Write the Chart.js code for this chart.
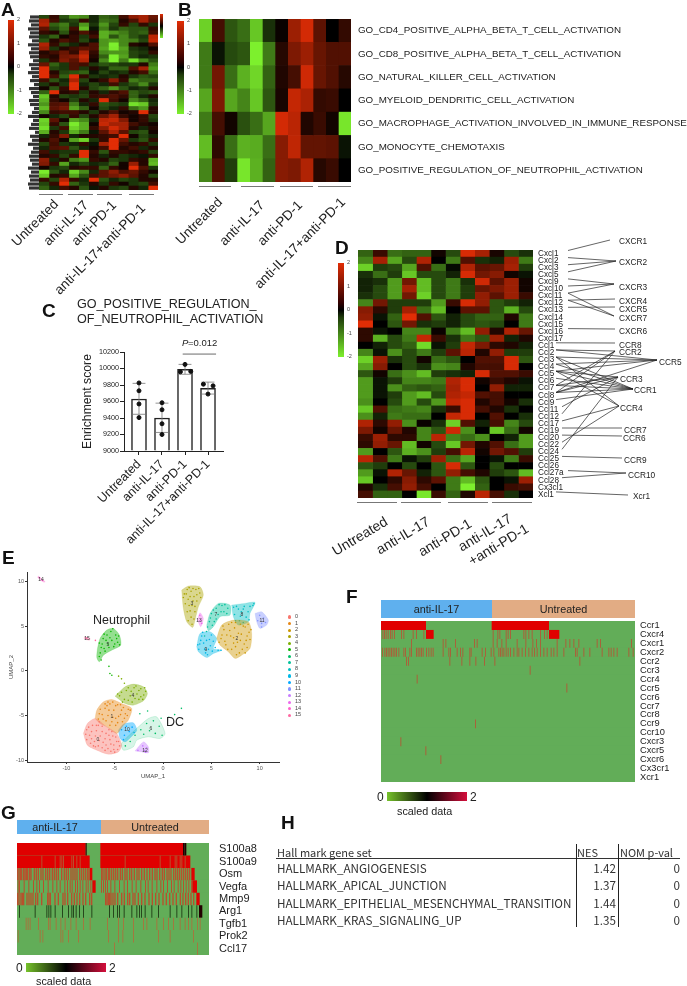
<!DOCTYPE html>
<html>
<head>
<meta charset="utf-8">
<script src="https://cdn.jsdelivr.net/npm/chart.js@4"></script>
<style>
  html, body { margin: 0; padding: 0; background: #fff; }
  #page { position: relative; width: 687px; height: 986px; overflow: hidden; font-family: "Liberation Sans", Arial, sans-serif; color: #222; filter: blur(0.35px); }
  #page canvas { position: absolute; }
  .t { position: absolute; white-space: nowrap; line-height: 1; }
  .box { position: absolute; }
</style>
</head>
<body>
<div id="page"></div>
<script>
// ---- data ----
const groups = ["Untreated", "anti-IL-17", "anti-PD-1", "anti-IL-17+anti-PD-1"];

// A: heatmap rows, 12 samples
const heatA = [
  [-.4,.3,-.5,-1,-.9,-.2,-.6,-.5,.4,1,1.2,.7],
  [1.2,.4,-.3,-.4,.3,-.2,-.7,-.6,.2,.5,1.2,.6],
  [1.3,-.6,-.8,-.3,-1,-.3,-1,-.4,.3,-.4,.3,-.3],
  [.6,-.4,-.7,.4,-1.3,-.1,-.8,-.3,-.6,-.5,-.5,.3],
  [.3,.2,-.5,.2,.5,.2,-1.2,-1,-.8,-.5,-.6,.4],
  [-.3,-.6,.1,.3,-.3,.4,-1.2,-.5,-.9,-.5,-.3,1.4],
  [-.5,.2,.5,.3,-.4,-.1,-1,-1.1,-.9,-.8,-.4,1.5],
  [1.3,.3,-.4,-.2,.2,.5,-1,-1.8,-.9,.2,.1,.5],
  [1.1,-.3,.2,.4,.6,.5,-1.1,-1.7,-1.1,-.3,-.2,.1],
  [.2,.4,.7,.3,1.2,.3,-.9,-1,-1,-.4,-.3,.3],
  [.3,.2,.8,.9,1.5,.2,-.6,-1.9,-1.1,-.4,-.2,-.3],
  [-.3,.3,.9,.6,1.3,.1,-.9,-1.8,-.8,-1.6,-.9,-.5],
  [.7,-.6,-.3,.5,.4,-.3,-.5,-.4,-.3,-.3,.2,-.8],
  [1.9,-.4,-.3,.5,-.3,.2,-.2,-.6,-.6,.5,1.2,-1],
  [2,.2,-.4,-.5,-.6,-.1,-.4,-.2,-.3,.2,.4,-.7],
  [2,.4,-.6,1.8,.3,-.3,-.2,-.3,.2,-.3,-.5,-.4],
  [.4,-.5,-.2,1.3,-.4,.1,.3,1,.3,-.8,-.6,-.6],
  [-.3,.2,-.3,1.8,-.2,-.4,-.2,.4,-.3,-.5,-.9,-.3],
  [.1,-.5,.3,1.7,.2,-.4,-.6,-1,-.5,-.2,-.3,.2],
  [-.6,1.9,.2,.3,-.3,.2,-.2,.3,.5,-.6,-.4,-.5],
  [-1.4,.2,-.4,-.3,-.4,.3,.4,.5,.3,-.6,-.2,.2],
  [-1.2,.3,.1,-.4,.2,-.2,1.9,.4,.1,-.9,-.6,-.2],
  [-1,.5,.6,-.8,-.2,.3,-.5,-.4,-.3,-1.6,-1.4,-.3],
  [-1.3,.6,.8,-1.1,-.6,.1,-.4,-.2,.3,-.7,-1,.2],
  [-.9,.3,.4,.4,.2,-.3,.2,.5,.1,.2,1.8,.2],
  [.1,-.2,-.4,.3,-.4,.2,.7,1.2,.3,.1,.3,-.4],
  [-1.5,.6,.1,-1.1,-.9,-.2,1.4,1.5,.9,.1,.3,-.3],
  [-1.4,.3,-.5,-1.7,-1.2,.1,1.5,1.2,1.2,.4,.2,.1],
  [-1.6,-.3,.4,-1.5,-1.2,.3,1,1.6,1.2,.2,-.2,.2],
  [-1.2,.2,-.3,-1.2,-.8,-.1,.6,1.3,.6,-.4,-.5,.1],
  [-.2,.3,.9,-.2,.2,.2,.3,.4,1.8,.1,-.4,-.2],
  [.2,.5,.1,-1.1,-1.5,-.3,.3,1.9,.7,-.3,-.5,.3],
  [-.4,.4,-.3,-.2,.3,-.1,1.2,2,.4,.2,.3,-.3],
  [-.2,.5,.6,-.5,-.2,.1,.4,1.8,.2,.4,-.2,.2],
  [.4,-.2,-.3,-.3,1.9,.3,-.5,.3,.3,.2,.3,-.4],
  [.2,.3,-.4,.3,1.8,.2,-.2,.2,-.3,-.2,-.1,.3],
  [1,-.2,.2,-.8,-1,.3,.2,-.4,-.3,.3,.2,-1.2],
  [.9,.3,-1.1,-.2,-.4,-.2,-.3,-.6,.1,1.1,.2,-1.3],
  [.1,-.3,-.4,.2,.3,.3,-.6,.3,.1,1.9,.5,-.3],
  [-1.7,-.5,-.2,-1.5,-.9,-.2,.6,1,.5,.7,.3,.1],
  [-1.4,.2,.3,-1.1,-.5,.4,.6,.8,1,.6,.2,-.4],
  [.3,-.4,1.3,.3,-.2,1.9,-.5,-.2,-.4,-.3,.2,.2],
  [-.4,.3,1.9,-.6,-.3,.2,-.3,.3,.1,-.3,-.4,.4],
  [-.6,-.2,.4,.2,-.5,-.1,.2,-.3,-.4,.2,-.2,1.9]
];
const dendroA = [9,10,8,11,9,10,7,11,8,10,9,6,10,8,11,7,9,5,10,8,6,10,9,5,7,11,6,8,10,4,9,7,11,6,8,10,9,7,11,8,10,9,11,10];

// B: gene set scores
const pathwaysB = ["GO_CD4_POSITIVE_ALPHA_BETA_T_CELL_ACTIVATION","GO_CD8_POSITIVE_ALPHA_BETA_T_CELL_ACTIVATION","GO_NATURAL_KILLER_CELL_ACTIVATION","GO_MYELOID_DENDRITIC_CELL_ACTIVATION","GO_MACROPHAGE_ACTIVATION_INVOLVED_IN_IMMUNE_RESPONSE","GO_MONOCYTE_CHEMOTAXIS","GO_POSITIVE_REGULATION_OF_NEUTROPHIL_ACTIVATION"];
const heatB = [
  [-1.7,.5,-.6,-.8,-1.6,-.3,.05,1.3,1.85,.7,0,.35],
  [-.9,-.1,-.5,-.6,-2,-.9,.25,1,1.3,.8,.6,.6],
  [-.9,.9,-.8,-1.4,-1.75,-.7,.2,.5,1.8,.8,.6,.25],
  [-1.3,1,-1.3,-1,-1.6,-.6,.15,1.7,1.45,.35,.4,0],
  [-.9,.5,.1,-.55,-.8,-1.3,1.85,1.6,.2,.4,.1,-1.9],
  [-1.5,.3,-.8,-1.4,-1.35,-.8,1.1,1.65,.75,.75,.7,-.1],
  [-1,.6,-.4,-1.9,-1.4,-.7,1.1,1,1.5,.25,.4,0]
];

// C: enrichment score
const barC = [9630, 9400, 9990, 9760];
const errHiC = [9820, 9580, 10050, 9835];
const errLoC = [9445, 9225, 9930, 9690];
const dotsC = [[0,9825],[0,9730],[0,9570],[0,9405],[1,9585],[1,9500],[1,9330],[1,9200],[2,10050],[1.8,9960],[2.25,9965],[2.8,9810],[3.22,9790],[3,9690]];

// D: chemokines
const chemokines = ["Cxcl1","Cxcl2","Cxcl3","Cxcl5","Cxcl9","Cxcl10","Cxcl11","Cxcl12","Cxcl13","Cxcl14","Cxcl15","Cxcl16","Cxcl17","Ccl1","Ccl2","Ccl3","Ccl4","Ccl5","Ccl6","Ccl7","Ccl8","Ccl9","Ccl11","Ccl12","Ccl17","Ccl19","Ccl20","Ccl22","Ccl24","Ccl25","Ccl26","Ccl27a","Ccl28","Cx3cl1","Xcl1"];
const heatD = [
  [-.7,.4,-.8,-.7,-.7,.1,-.5,1.9,1.4,.15,-.5,-.3],
  [-1,1.4,-1.3,-.5,1.5,0,-.9,.6,-.3,-.2,1.3,-.9],
  [-1.7,-.4,-.5,-1.3,.6,-.8,-.05,1.5,.7,.8,1.4,-.4],
  [-.3,-.8,-.4,-1.6,-.5,-.5,-.2,1.9,.9,1.1,.1,-.1],
  [-.2,-.3,-1.2,.9,-1.5,-.5,-.9,-.3,1.8,.7,1.3,.1],
  [-.2,-.5,-1.2,1.4,-1.5,-.5,-.9,-.4,.8,1,1.3,.1],
  [-.3,-.5,-1.2,.9,-1.7,-.5,-.9,-.4,1.2,.7,1.3,.4],
  [-1,.9,-.4,-.4,-.4,-1.2,.4,1.9,1.2,-.6,-.4,-.2],
  [1.1,.3,-.4,1.4,-.8,-1.5,0,.7,.7,-.6,-1.4,-.5],
  [1.2,-.1,-.7,2,.6,-.6,-.2,-.5,-.7,-.7,.2,-.9],
  [2,0,-.6,.9,-.3,-.4,-.2,-.5,-.6,-.5,0,-.9],
  [.3,-.1,0,-1,-1,.05,-.9,-1.5,1.2,.2,1.5,.8],
  [.3,-1.4,-.5,-.9,1.7,.4,-.3,-.9,-.6,1.3,-.2,.2],
  [0,-.2,-.5,-.7,-1.8,-.1,-.4,1.7,1,.3,.2,-.2],
  [-1,-.1,-1.1,-.5,-.9,-.4,.7,1.6,.2,1.2,-.4,-.4],
  [-1.7,1.3,-.3,-.5,.1,-.8,-.6,0,.6,.6,1.9,-.6],
  [-1.3,1.1,0,-.5,-.3,-1.1,-1,.2,.5,.5,1.9,0],
  [-.6,.1,-.8,-1.1,-1.5,-.4,-.3,-.2,1.9,.6,.6,.4],
  [-1.2,-.1,-.4,-1,-1,-.9,1.5,1.9,.1,.4,.2,-.1],
  [-1.2,-.1,-1.1,-.7,-.6,-.7,1.4,1.9,0,1.2,-.2,-.2],
  [-1.2,-.1,-.4,-1.2,-1.5,-.5,1.5,1.7,.6,.5,0,0],
  [-1.1,0,-.5,-1.2,-.5,-1.2,1.7,1.9,.2,.5,.1,-.3],
  [-1.6,.6,-.8,-.9,-1,-.3,.4,1.9,.5,.2,-.3,0],
  [-1.1,-.2,-.9,-.8,-.8,0,1.7,1.9,0,.6,0,-.3],
  [1.5,.3,1.2,-1.1,.05,-.3,-1.7,.6,-.2,.5,-1,-.5],
  [1,.1,.8,.2,-1,-.6,1.8,-1.1,0,-1.6,-.8,.1],
  [.4,1.3,.3,.3,-1,1.6,-1,-.8,-1.1,0,-.2,-1.2],
  [.3,1.2,.8,-1.5,.1,-.5,-1.6,.9,.2,.6,-.8,-1.2],
  [-1.2,0,-.6,-1.4,-1.1,-.4,.5,1.6,.1,.9,.6,-.4],
  [1.6,.6,-.9,-.1,-.4,1.3,-.8,-1.3,0,-.1,-.9,.4],
  [-.6,-.4,0,-.5,0,-.6,1.9,-.6,0,-.5,0,0],
  [-1.2,-.1,1.5,.8,-.2,-.6,1.2,.5,.2,-.4,-.6,-1.5],
  [-1.6,0,.3,1.1,.3,.7,-.9,-1.5,-.6,0,-.1,1.3],
  [.2,-.3,.5,1.2,.5,0,-.9,-2,-.7,0,.4,.5],
  [.5,-.7,-.7,0,-1.9,.4,-.7,.2,1.6,.5,-.3,0]
];
const linksCXCR1 = ["CXCR1", "Cxcl1"];
const linksCXCR2 = ["CXCR2", "Cxcl2", "Cxcl3", "Cxcl5"];
const linksCXCR3 = ["CXCR3", "Cxcl9", "Cxcl10", "Cxcl11"];
const linksCXCR4 = ["CXCR4", "Cxcl12"];
const linksCXCR5 = ["CXCR5", "Cxcl13"];
const linksCXCR7 = ["CXCR7", "Cxcl11", "Cxcl12"];
const linksCXCR6 = ["CXCR6", "Cxcl16"];
const linksCCR8 = ["CCR8", "Ccl1"];
const linksCCR2 = ["CCR2", "Ccl2", "Ccl7", "Ccl8", "Ccl12"];
const linksCCR5 = ["CCR5", "Ccl2", "Ccl3", "Ccl4", "Ccl5", "Ccl8"];
const linksCCR3 = ["CCR3", "Ccl5", "Ccl7", "Ccl8", "Ccl11", "Ccl24"];
const linksCCR1 = ["CCR1", "Ccl3", "Ccl4", "Ccl5", "Ccl6", "Ccl7", "Ccl8", "Ccl9"];
const linksCCR4 = ["CCR4", "Ccl3", "Ccl5", "Ccl17", "Ccl22"];
const linksCCR7 = ["CCR7", "Ccl19"];
const linksCCR6 = ["CCR6", "Ccl20"];
const linksCCR9 = ["CCR9", "Ccl25"];
const linksCCR10 = ["CCR10", "Ccl27a", "Ccl28"];
const linksXcr1 = ["Xcr1", "Xcl1"];

// E: UMAP, outline of each cluster and a sample of its cells
const clusterColors = ["#F8766D","#E68613","#CD9600","#ABA300","#7CAE00","#0CB702","#00BE67","#00C19A","#00BFC4","#00B8E7","#00A9FF","#8494FF","#C77CFF","#ED68ED","#FF61CC","#FF68A1"];
const shape0 = [[-8.24,-7.01],[-7.83,-5.9],[-7.03,-5.34],[-5.83,-6.27],[-4.79,-7.01],[-4.28,-8.32],[-4.62,-9.07],[-5.66,-9.33],[-6.86,-8.88],[-7.83,-8.32]];
const shape1 = [[-7.03,-5.34],[-6.86,-4.4],[-6.17,-3.47],[-5.31,-3.21],[-4.28,-3.66],[-3.24,-4.22],[-3.59,-5.52],[-4.1,-6.08],[-4.79,-7.01],[-5.83,-6.27],[-6.52,-5.9]];
const shape2 = [[5.55,3.62],[6.07,5.11],[7.28,5.67],[8.83,5.48],[9.17,4.18],[9,2.5],[8.14,1.75],[7.45,1.38],[6.76,2.13],[5.9,2.87]];
const shape3 = [[1.93,9.03],[2.62,9.48],[3.83,9.4],[4.17,8.47],[3.66,7.16],[3.31,5.67],[3.07,4.85],[2.45,5.48],[2.1,7]];
const shape4 = [[-4.97,-2.84],[-3.93,-1.79],[-3.07,-1.49],[-2.03,-1.79],[-1.62,-2.54],[-2.03,-3.36],[-3.07,-3.84],[-3.93,-3.66]];
const shape5 = [[-6.79,2.5],[-6.52,3.62],[-5.83,4.55],[-5.14,4.74],[-4.52,4],[-4.38,2.87],[-5.31,2.31],[-6.17,1.75],[-6.59,1],[-6.86,1.49]];
const shape6 = [[-2.55,-6.27],[-1.52,-5.34],[-.66,-5.15],[.21,-7.01],[-.31,-7.57],[-1.52,-7.38],[-2.72,-7.75],[-3.07,-8.5],[-4.1,-8.88],[-4.28,-8.1]];
const shape7 = [[4.52,5.11],[4.86,6.42],[5.72,7.54],[6.93,7.35],[6.93,6.23],[5.9,6.04],[5.21,4.93],[4.69,4.48]];
const shape8 = [[7.1,7.35],[8.48,7.54],[9.52,7.65],[9,6.42],[8.83,5.48],[7.79,5.11],[7.28,6.04]];
const shape9 = [[3.48,2.69],[3.83,4.18],[4.86,4.37],[5.55,3.62],[5.21,2.5],[6.07,2.31],[5.21,1.94],[4.52,1.49],[3.66,2.13]];
const shape10 = [[-4.62,-6.64],[-4.1,-5.97],[-3.07,-5.82],[-2.72,-6.64],[-3.24,-7.31],[-3.93,-7.95],[-4.45,-7.57]];
const shape11 = [[9.52,6.42],[10.21,6.6],[10.9,5.67],[10.72,5.11],[10.03,4.74],[9.69,5.48]];
const shape12 = [[-2.9,-8.96],[-2.03,-7.95],[-1.52,-8.5],[-1.52,-9.18],[-2.21,-9.07]];
const shape13 = [[3.55,5.67],[3.83,6.49],[4.17,5.85],[3.9,4.93]];
const shape14 = [[-12.9,10.6],[-12.2,9.96],[-12.38,9.92],[-12.97,10.45]];
const shape15 = [[-8.14,3.8],[-7.55,3.62],[-7.62,3.43],[-8.14,3.55]];
const cells0 = [[-7.9,-6.6],[-7.6,-7.2],[-7.3,-6.1],[-7.1,-7.9],[-6.9,-6.7],[-6.7,-8.4],[-6.5,-7.3],[-6.3,-6.2],[-6.2,-8],[-5.9,-7],[-5.7,-8.7],[-5.5,-7.7],[-5.3,-6.8],[-5.1,-8.3],[-4.9,-7.4],[-4.7,-8.8],[-4.6,-7.9],[-7.5,-8.1],[-6,-8.9],[-5,-9.1],[-7.9,-7.7],[-6.6,-5.7],[-8,-7.1],[-7.7,-6.3],[-7.4,-6.8],[-7.4,-7.6],[-7,-7.3],[-7,-8.5],[-6.7,-6.1],[-6.6,-7.8],[-6.3,-6.8],[-6.3,-8.6],[-6,-7.6],[-5.9,-8.3],[-5.6,-6.6],[-5.6,-7.2],[-5.4,-8.2],[-5.2,-7.3],[-5.1,-8.8],[-4.8,-7.9],[-4.5,-8.4],[-6.9,-6.1],[-7.2,-8.4],[-5.4,-9]];
const cells1 = [[-6.6,-4.8],[-6.2,-5.4],[-6,-4.2],[-5.7,-5],[-5.5,-3.7],[-5.3,-5.7],[-5.1,-4.4],[-4.9,-6.1],[-4.7,-3.8],[-4.6,-5.1],[-4.3,-4.4],[-4.2,-5.7],[-3.9,-4.8],[-3.6,-4.3],[-5.8,-3.9],[-4.9,-5.3],[-6.7,-5.4],[-6.5,-4.3],[-6.3,-4.9],[-6,-3.7],[-5.9,-5.6],[-5.6,-4.4],[-5.5,-6.1],[-5.2,-3.5],[-5.2,-5.2],[-4.9,-3.9],[-4.7,-5.8],[-4.4,-3.8],[-4.4,-4.9],[-4.1,-4.1],[-4,-5.3],[-3.7,-5],[-3.4,-4.4],[-5.7,-3.5]];
const cells2 = [[6,3.6],[6.3,4.6],[6.5,2.9],[6.8,5.2],[7,3.9],[7.1,2.4],[7.4,4.8],[7.6,1.8],[7.7,3.2],[8,5.2],[8.1,4.1],[8.2,2.4],[8.5,4.9],[8.6,3.4],[8.9,4.3],[8.7,2.6],[7.3,3.1],[6.6,4],[5.8,3.2],[6.1,4],[6.2,5],[6.4,3.3],[6.7,2.4],[6.9,4.5],[7.1,5.4],[7.3,3.7],[7.5,2.7],[7.5,5.4],[7.8,4.2],[7.9,2],[8,3.4],[8.3,5],[8.4,3],[8.5,2],[8.7,3.9],[9,3.5],[9.1,4.6],[8.8,5.2]];
const cells3 = [[2.2,8.6],[2.5,9.1],[2.6,8],[2.9,8.9],[3,7.3],[3.2,8.3],[3.4,9.1],[3.5,7.8],[3.8,8.7],[2.5,6.6],[2.9,6],[3,5.2],[2.7,7.3],[3.3,6.6],[2.1,8.2],[2.3,7.5],[2.4,8.6],[2.7,9.3],[2.8,8.3],[2.8,6.7],[3.1,7.8],[3.1,9.2],[3.3,7.2],[3.5,8.5],[3.7,9.2],[3.9,8.2],[2.6,5.6],[3.2,5.8]];
const cells4 = [[-4.5,-2.8],[-4,-3.2],[-3.8,-2.2],[-3.4,-2.8],[-3.2,-3.5],[-3,-1.9],[-2.7,-2.6],[-2.5,-3.2],[-2.3,-2],[-2,-2.7],[-1.8,-2.3],[-4.3,-.9],[-4.6,-.6],[-4,-1.4],[-4.7,-2.6],[-4.3,-2.4],[-4.2,-3.5],[-3.6,-1.9],[-3.6,-3.3],[-3.3,-2.3],[-2.9,-3.1],[-2.8,-1.7],[-2.5,-2.2],[-2.3,-2.9],[-2.1,-3.2],[-1.9,-1.9]];
const cells5 = [[-6.6,1.6],[-6.4,2.6],[-6.2,3.6],[-6,2.2],[-5.8,4],[-5.7,3],[-5.4,4.4],[-5.3,3.4],[-5.1,2.7],[-4.9,4],[-4.7,3.2],[-5.6,.5],[-5.5,-.3],[-5.3,-.5],[-6.5,2],[-6.6,3.1],[-6.3,3],[-6.1,2.5],[-6.1,4.1],[-5.9,3.4],[-5.6,2.6],[-5.5,3.7],[-5.2,4.7],[-5,3],[-4.8,3.6],[-4.6,3.9],[-4.5,2.9],[-6.4,1.2]];
const cells6 = [[-3.9,-8.4],[-3.4,-7.9],[-2.9,-7.2],[-2.3,-6.6],[-2,-7.1],[-1.7,-5.9],[-1.4,-6.7],[-1,-5.6],[-.8,-7],[-.4,-6.2],[-.1,-7.2],[-.2,-5.3],[.6,-5.2],[1.2,-4.9],[1.9,-4.2],[-2.4,-4.8],[-1.6,-4.5]];
const cells7 = [[4.8,5.5],[5,6.4],[5.3,5.5],[5.5,7],[5.7,6.3],[6.1,7.3],[6.3,6.6],[6.7,7],[4.5,4.4],[4.3,3.9],[4.6,4.9],[4.9,5.9],[5.1,5.1],[5.2,6.8],[5.5,5.8],[5.8,7.4],[6,6.6],[6.4,7.4],[6.6,6.4]];
const cells8 = [[7.4,6.3],[7.6,7.2],[7.9,5.6],[8.1,6.6],[8.4,7.2],[8.6,6],[9,7.2],[9.4,7.5],[8.3,5.4],[7.3,7.1],[7.5,5.6],[7.8,6.9],[8,6.1],[8.3,6.9],[8.8,6.6],[8.9,5.7],[9.3,7.3]];
const cells9 = [[3.8,3],[4,3.9],[4.3,2.4],[4.5,3.4],[4.6,1.8],[4.9,2.8],[5.1,2.2],[5.7,2.3],[3.7,2.4],[5,4],[3.6,2.9],[3.9,3.4],[4.1,4.3],[4.2,3.1],[4.4,2],[4.7,2.4],[4.8,3.5],[5.2,3.3],[5.4,2.6],[6,2.3]];
const cells10 = [[-4.3,-6.6],[-4,-7.2],[-3.8,-6.2],[-3.5,-6.8],[-3.2,-6.3],[-3,-6.9],[-4.1,-7.7]];
const cells11 = [[9.8,5.6],[10,6.2],[10.2,5.3],[10.4,5.9],[10.6,5.4],[10.2,4.9]];
const cells12 = [[-2.6,-8.9],[-2.1,-8.4],[-1.9,-8.9],[-1.7,-8.6],[-1.8,-9.1]];
const cells13 = [[3.8,6.2],[3.85,5.6],[4,5.3]];
const cells14 = [[-12.8,10.4],[-12.5,10.1]];
const cells15 = [[-7.9,3.65],[-7,3.4]];
const clusterNames = ["0","1","2","3","4","5","6","7","8","9","10","11","12","13","14","15"];

// F: single cell rows, position along the cell order, anti-IL-17 then Untreated
const cellRowsF = ["Ccr1","Cxcr4","Cxcr1","Cxcr2","Ccr2","Ccr3","Ccr4","Ccr5","Ccr6","Ccr7","Ccr8","Ccr9","Ccr10","Cxcr3","Cxcr5","Cxcr6","Cx3cr1","Xcr1"];
const fCcr1Solid = [[0,135],[332,504]];
const fCxcr4Solid = [[135,158],[504,535]];
const fCxcr4 = [4,9,14,20,27,32,39,60,67,95,105,127,335,349,355,374,380,387,427,433,442,452,477,489,497];
const fCxcr1 = [90,185,193,222,279,287,335,347,361,374,407,433,454,465,477,527,553,565,577,592,647,657,750];
const fCxcr2 = [3,10,15,20,25,30,35,40,45,52,67,72,85,90,105,110,115,120,125,135,142,149,155,185,202,207,227,237,244,265,269,302,312,329,337,352,357,362,367,374,380,387,397,407,412,422,432,442,452,459,467,477,487,497,509,517,527,547,582,587,607,625,662,682,689,697,707,742,755];
const fCcr2 = [75,81,205,241,265,283,309,340,595];
const fCcr3 = [446];
const fCcr4 = [107];
const fCcr5 = [556];
const fCcr9 = [282];
const fCxcr3 = [58];
const fCxcr5 = [133];
const fCxcr6 = [178];

// G
const cellRowsG = ["S100a8","S100a9","Osm","Vegfa","Mmp9","Arg1","Tgfb1","Prok2","Ccl17"];
const gS100a8Solid = [[0,206],[250,498]];
const gS100a8Dark = [[206,209],[498,503],[503,508]];
const gS100a9Solid = [[0,218],[250,520]];
const gS100a9 = [73,113,128,133,138,163,168,178,188,323,428,458,473,478,488,493,503];
const gOsmSolid = [[218,226],[523,533]];
const gOsm = [0,4,8,12,18,22,26,30,36,40,50,56,62,70,76,84,90,96,104,110,116,122,132,140,146,152,160,166,172,178,186,192,198,204,210,214,252,256,262,266,272,276,282,288,294,300,308,314,322,328,336,342,350,358,364,372,380,388,396,404,412,418,426,434,440,448,454,460,468,474,480,486,492,498,504,510,516];
const gVegfaSolid = [[226,236],[526,540]];
const gVegfa = [2,6,20,34,48,58,66,78,92,106,118,128,142,150,158,164,174,180,188,196,206,212,220,252,258,264,270,280,292,306,320,330,344,356,370,384,392,404,418,430,438,450,462,470,482,490,498,506,514,522];
const gMmp9Solid = [[538,548]];
const gMmp9 = [0,4,10,14,18,28,34,40,46,54,60,72,90,94,98,112,122,136,142,150,162,170,178,186,196,204,216,222,264,268,272,276,280,286,292,300,312,320,330,336,346,352,362,372,382,394,404,414,424,436,446,456,466,476,488,496,504,512,520,528];
const gArg1Dark = [6,53,88,94,100,113,135,153,163,168,176,186,198,223,276,288,300,306,320,343,358,366,372,383,403,423,458,478,493,513,523,538];
const gArg1End = [[546,556]];
const gTgfb1 = [26,32,38,63,93,98,116,130,143,160,176,198,218,270,303,318,348,378,388,418,438,453,468,488,503,513,523,540,548];
const gProk2 = [2,68,76,130,136,153,183,273,303,316,348,423,458,528];
const gCcl17 = [291,540];

// H
const hallmarkSets = ["HALLMARK_ANGIOGENESIS","HALLMARK_APICAL_JUNCTION","HALLMARK_EPITHELIAL_MESENCHYMAL_TRANSITION","HALLMARK_KRAS_SIGNALING_UP"];
const hallmarkNes = ["1.42","1.37","1.44","1.35"];
const hallmarkPval = ["0","0","0","0"];

// ---- helpers ----
const page = document.getElementById("page");
const TXT = "#222";

function txt(x, y, s, o = {}) {
  const d = document.createElement("div");
  d.className = "t";
  d.textContent = s;
  d.style.left = x + "px";
  d.style.top = y + "px";
  d.style.fontSize = (o.size || 10) + "px";
  d.style.color = o.color || TXT;
  if (o.bold) d.style.fontWeight = "700";
  if (o.italic) d.style.fontStyle = "italic";
  if (o.font) d.style.fontFamily = o.font;
  if (o.rot) {
    // right end of the text sits on (x,y)
    d.style.transformOrigin = "100% 50%";
    d.style.transform = "translate(-100%,-50%) rotate(" + o.rot + "deg)";
  } else if (o.right) {
    d.style.transform = "translate(-100%,-50%)";
  } else if (o.center) {
    d.style.transform = "translate(-50%,-50%)";
  } else {
    d.style.transform = "translateY(-50%)";
  }
  page.appendChild(d);
  return d;
}

function box(x, y, w, h, bg, extra) {
  const d = document.createElement("div");
  d.className = "box";
  d.style.cssText = "left:" + x + "px;top:" + y + "px;width:" + w + "px;height:" + h + "px;background:" + bg + ";" + (extra || "");
  page.appendChild(d);
  return d;
}

function canvas(x, y, w, h) {
  const c = document.createElement("canvas");
  c.width = w; c.height = h;
  c.style.cssText = "left:" + x + "px;top:" + y + "px;width:" + w + "px;height:" + h + "px;";
  page.appendChild(c);
  return c;
}

function heatColor(v, gain) {
  const t = Math.pow(Math.min(1, Math.abs(v) * (gain || 1) / 2), 0.85);
  if (v >= 0) return "rgb(" + Math.round(225 * t) + "," + Math.round(45 * t) + "," + Math.round(5 * t) + ")";
  return "rgb(" + Math.round(125 * t) + "," + Math.round(240 * t) + "," + Math.round(45 * t) + ")";
}

const baseOpts = { responsive: false, animation: false, devicePixelRatio: 1, layout: { padding: 0 },
  plugins: { legend: { display: false }, tooltip: { enabled: false } } };

// keeps the plot area where it is meant to be, whatever the labels want
function fixSize(s, size) {
  if (s.isHorizontal()) s.height = size; else s.width = size;
  s.paddingTop = s.paddingBottom = s.paddingLeft = s.paddingRight = 0;
}

// stacked unit cells, colour holds the value
function heatChart(x, y, w, h, matrix, labels, labelW, pad, font, gain) {
  const cols = matrix[0].length;
  const rowNames = labels || matrix.map((_, i) => "r" + i);
  const datasets = [];
  for (let c = 0; c < cols; c++) {
    datasets.push({ data: matrix.map(() => 1), backgroundColor: matrix.map((r) => heatColor(r[c], gain)),
      barPercentage: 1, categoryPercentage: 1, borderWidth: 0, stack: "s" });
  }
  return new Chart(canvas(x, y, w + (labelW || 0), h), {
    type: "bar",
    data: { labels: rowNames, datasets },
    options: Object.assign({}, baseOpts, {
      indexAxis: "y",
      scales: {
        x: { stacked: true, min: 0, max: cols, display: false },
        y: { stacked: true, position: "right", display: !!labels, afterFit: (s) => fixSize(s, labelW || 0),
             grid: { display: false, drawTicks: false }, border: { display: false },
             ticks: { autoSkip: false, padding: pad || 0, color: TXT, font: { family: "Liberation Sans", size: font || 9 } } },
      },
    }),
  });
}

function ticksOf(label, arr, w) { return arr.map((v) => ({ x: [v, v + (w || 3)], y: label })); }
function rangesOf(label, arr) { return arr.map((r) => ({ x: r, y: label })); }

// green field with floating bars for the positive cells
function cellChart(x, y, w, h, labels, labelW, pad, font, xMax, layers) {
  const green = labels.map((l) => ({ x: [0, xMax], y: l }));
  const layer = (bars, color, inflate) => ({ data: bars, backgroundColor: color, borderWidth: 0, grouped: false,
    barPercentage: 1, categoryPercentage: 1, inflateAmount: inflate });
  // first dataset ends up on top in Chart.js
  const datasets = [layer(green, "#62ad58", 0.5)].concat(layers.map((l) => layer(l[0], l[1], 0))).reverse();
  return new Chart(canvas(x, y, w + labelW, h), {
    type: "bar",
    data: { labels, datasets },
    options: Object.assign({}, baseOpts, {
      indexAxis: "y",
      scales: {
        x: { min: 0, max: xMax, display: false },
        y: { type: "category", labels, position: "right", afterFit: (s) => fixSize(s, labelW),
             grid: { display: false, drawTicks: false }, border: { display: false },
             ticks: { autoSkip: false, padding: pad, color: TXT, font: { family: "Liberation Sans", size: font } } },
      },
    }),
  });
}

function vBar(x, y, w, h, lx, step) {
  box(x, y, w, h, "linear-gradient(to bottom,#e12d05,#300 42%,#000 50%,#1f3c0b 58%,#7df02d)");
  ["2", "1", "0", "-1", "-2"].forEach((s, i) => txt(lx, y + i * step, s, { size: 5.5, color: "#444" }));
}
function hBar(x, y, w, h) {
  box(x, y, w, h, "linear-gradient(to right,#76c22b,#000 50%,#d40f3c)");
}
const panel = (x, y, s) => txt(x, y, s, { size: 19, bold: true, color: "#111" });
const under = (y, spans) => spans.forEach((p) => box(p[0], y, p[1] - p[0], 1, "#777"));

// ---- A ----
panel(1, 9, "A");
new Chart(canvas(28, 15, 11, 175), {
  type: "bar",
  data: { labels: dendroA.map((_, i) => i), datasets: [{ data: dendroA, backgroundColor: "#333", barPercentage: 0.8, categoryPercentage: 1 }] },
  options: Object.assign({}, baseOpts, { indexAxis: "y", scales: { x: { reverse: true, min: 0, max: 11, display: false }, y: { display: false } } }),
});
heatChart(39, 15, 119, 175, heatA, null, 0, 0, 0, 1.15);
box(160, 14, 3, 24, "linear-gradient(to bottom,#e12d05,#000 50%,#7df02d)");
vBar(8, 20, 6, 94, 17, 23.5);
under(194, [[39, 63], [68, 93], [97, 122], [129, 154]]);
[[56, 202], [86, 203], [114, 203], [143, 206]].forEach((p, i) => txt(p[0], p[1], groups[i], { size: 13.5, rot: -45 }));

// ---- B ----
panel(178, 9, "B");
heatChart(199, 19, 152, 163, heatB, pathwaysB, 336, 7, 9.8);
vBar(177, 21, 7, 93, 187, 23.3);
under(186, [[199, 231], [241, 274], [280, 313], [318, 351]]);
[[220, 200], [262, 203], [300, 203], [343, 200]].forEach((p, i) => txt(p[0], p[1], groups[i], { size: 13.5, rot: -45 }));

// ---- C ----
panel(42, 310, "C");
txt(77, 304, "GO_POSITIVE_REGULATION_", { size: 12.6 });
txt(77, 319, "OF_NEUTROPHIL_ACTIVATION", { size: 12.6 });
txt(182, 343, "P", { size: 9.5, italic: true });
txt(188, 343, "=0.012", { size: 9.5 });
const errData = [];
barC.forEach((_, i) => {
  errData.push({ x: i, y: errLoC[i] }, { x: i, y: errHiC[i] }, { x: NaN, y: NaN });
  errData.push({ x: i - 0.28, y: errHiC[i] }, { x: i + 0.28, y: errHiC[i] }, { x: NaN, y: NaN });
  errData.push({ x: i - 0.28, y: errLoC[i] }, { x: i + 0.28, y: errLoC[i] }, { x: NaN, y: NaN });
});
new Chart(canvas(80, 340, 160, 220), {
  data: { datasets: [
    { type: "bar", data: barC.map((v, i) => ({ x: i, y: v })), base: 9000, backgroundColor: "#fff", borderColor: "#222", borderWidth: 1.5, barThickness: 15, borderSkipped: "bottom", order: 3 },
    { type: "scatter", data: errData, showLine: true, spanGaps: false, borderColor: "#777", borderWidth: 0.8, pointRadius: 0, order: 2 },
    { type: "scatter", data: dotsC.map((d) => ({ x: d[0], y: d[1] })), backgroundColor: "#111", borderColor: "#111", pointRadius: 2, order: 1, clip: false },
    { type: "scatter", data: [{ x: 1.9, y: 10175 }, { x: 3.35, y: 10175 }], showLine: true, borderColor: "#444", borderWidth: 0.8, pointRadius: 0, order: 1 },
  ] },
  options: Object.assign({}, baseOpts, {
    layout: { padding: { top: 12, right: 17 } },
    scales: {
      x: { type: "linear", offset: false, min: -0.652, max: 3.652, afterFit: (s) => fixSize(s, 109),
           afterBuildTicks: (s) => { s.ticks = [0, 1, 2, 3].map((v) => ({ value: v })); },
           grid: { offset: false, drawOnChartArea: false, color: "#222", tickLength: 4 }, border: { color: "#222", width: 1 },
           ticks: { minRotation: 45, maxRotation: 45, padding: 2, color: TXT, font: { family: "Liberation Sans", size: 12.5 }, callback: (v) => groups[v] } },
      y: { min: 9000, max: 10200, afterFit: (s) => fixSize(s, 44),
           grid: { drawOnChartArea: false, color: "#222", tickLength: 4 }, border: { color: "#222", width: 1 },
           ticks: { stepSize: 200, padding: 1, color: TXT, font: { family: "Liberation Sans", size: 7.2 }, callback: (v) => String(v) },
           title: { display: true, text: "Enrichment score", color: TXT, padding: 0, font: { family: "Liberation Sans", size: 12.2 } } },
    },
  }),
});

// ---- D ----
panel(335, 247, "D");
heatChart(358, 250, 175, 248, heatD, chemokines, 40, 5, 8.2);
vBar(338, 263, 6, 94, 347, 23.5);
under(502, [[357, 397], [401, 441], [448, 488], [492, 532]]);
const receptorAnchor = {
  CXCR1: [610, 240, 619, 241], CXCR2: [616, 261, 619, 262], CXCR3: [614, 284, 619, 287], CXCR4: [615, 299, 619, 301],
  CXCR5: [615, 307, 619, 309], CXCR7: [614, 316, 619, 318], CXCR6: [615, 329, 619, 331], CCR8: [615, 343, 619, 345],
  CCR2: [615, 351, 619, 352], CCR5: [657, 360, 659, 362], CCR3: [618, 377, 620, 379], CCR1: [633, 389, 634, 390],
  CCR4: [619, 406, 620, 408], CCR7: [622, 428, 624, 430], CCR6: [622, 436, 623, 438], CCR9: [622, 458, 624, 460],
  CCR10: [626, 473, 628, 475], Xcr1: [628, 495, 633, 496],
};
const allLinks = [linksCXCR1, linksCXCR2, linksCXCR3, linksCXCR4, linksCXCR5, linksCXCR7, linksCXCR6, linksCCR8, linksCCR2, linksCCR5, linksCCR3, linksCCR1, linksCCR4, linksCCR7, linksCCR6, linksCCR9, linksCCR10, linksXcr1];
const linkSets = [];
allLinks.forEach((l) => {
  const a = receptorAnchor[l[0]];
  txt(a[2], a[3], l[0], { size: 8.3 });
  l.slice(1).forEach((g) => {
    const gy = 252 + 7.1 * chemokines.indexOf(g) - 1.5;
    const gx = g.startsWith("Cxcl") ? 568 : 532 + 6 * g.length;
    linkSets.push({ data: [{ x: gx, y: gy }, { x: a[0], y: a[1] }], showLine: true, borderColor: "#222", borderWidth: 0.7, pointRadius: 0 });
  });
});
new Chart(canvas(548, 230, 139, 285), {
  type: "scatter",
  data: { datasets: linkSets },
  options: Object.assign({}, baseOpts, { scales: { x: { min: 548, max: 687, display: false }, y: { min: 230, max: 515, reverse: true, display: false } } }),
});
[[386, 520], [428, 520], [470, 522]].forEach((p, i) => txt(p[0], p[1], groups[i], { size: 14, rot: -31 }));
txt(510, 517, "anti-IL-17", { size: 14, rot: -31 });
txt(527, 527, "+anti-PD-1", { size: 14, rot: -31 });

// ---- E ----
panel(2, 557, "E");
const shapes = [shape0, shape1, shape2, shape3, shape4, shape5, shape6, shape7, shape8, shape9, shape10, shape11, shape12, shape13, shape14, shape15];
const cells = [cells0, cells1, cells2, cells3, cells4, cells5, cells6, cells7, cells8, cells9, cells10, cells11, cells12, cells13, cells14, cells15];
const umapSets = [];
shapes.forEach((s, i) => {
  const hex = clusterColors[i];
  umapSets.push({ type: "scatter", data: s.concat([s[0]]).map((p) => ({ x: p[0], y: p[1] })), showLine: true, fill: "shape",
    backgroundColor: hex + (i === 6 ? "28" : "70"), borderColor: hex + "44", borderWidth: 0.6, pointRadius: 0, tension: 0.25 });
  umapSets.push({ type: "scatter", data: cells[i].map((p) => ({ x: p[0], y: p[1] })), backgroundColor: hex, borderWidth: 0, pointRadius: 0.8 });
});
const smallTick = { family: "Liberation Sans", size: 5.5 };
new Chart(canvas(0, 566, 285, 214), {
  data: { datasets: umapSets },
  options: Object.assign({}, baseOpts, {
    layout: { padding: { top: 6, right: 6 } },
    scales: {
      x: { type: "linear", min: -14.08, max: 12, afterFit: (s) => fixSize(s, 18),
           afterBuildTicks: (s) => { s.ticks = [-10, -5, 0, 5, 10].map((v) => ({ value: v })); },
           grid: { drawOnChartArea: false, color: "#333", tickLength: 2 }, border: { color: "#333" },
           ticks: { padding: 1, color: "#555", font: smallTick, maxRotation: 0 },
           title: { display: true, text: "UMAP_1", color: "#444", padding: 0, font: { family: "Liberation Sans", size: 6 } } },
      y: { min: -10.2, max: 11.05, afterFit: (s) => fixSize(s, 27),
           afterBuildTicks: (s) => { s.ticks = [-10, -5, 0, 5, 10].map((v) => ({ value: v })); },
           grid: { drawOnChartArea: false, color: "#333", tickLength: 2 }, border: { color: "#333" },
           ticks: { padding: 1, color: "#555", font: smallTick },
           title: { display: true, text: "UMAP_2", color: "#444", padding: { top: 8, bottom: 0 }, font: { family: "Liberation Sans", size: 6 } } },
    },
  }),
});
txt(93, 620, "Neutrophil", { size: 12.5 });
txt(166, 722, "DC", { size: 12.5 });
clusterNames.forEach((n, i) => {
  const ly = 617 + i * 6.55;
  box(287.5, ly - 1.6, 3.2, 3.2, clusterColors[i], "border-radius:50%;");
  txt(295, ly, n, { size: 5.5, color: "#444" });
});
const clusterLabelAt = [[98, 739], [112, 716], [237, 638], [192, 603], [133, 695], [108, 644], [151, 728], [216, 614], [242, 614], [206, 649], [127, 729], [262, 620], [145, 750], [199, 620], [41, 579], [87, 638]];
clusterNames.forEach((n, i) => txt(clusterLabelAt[i][0], clusterLabelAt[i][1], n, { size: 5, color: "#333", center: true }));

// ---- F ----
panel(346, 596, "F");
box(381, 600, 111, 18, "#5fb0ee");
box(492, 600, 143, 18, "#e2ac84");
txt(436.5, 609, "anti-IL-17", { size: 10.8, center: true });
txt(563.5, 609, "Untreated", { size: 10.8, center: true });
const tickF = "#a8623a";
cellChart(381, 621, 254, 161, cellRowsF, 45, 5, 9.3, 762, [
  [rangesOf("Ccr1", fCcr1Solid).concat(rangesOf("Cxcr4", fCxcr4Solid)), "#e00000"],
  [ticksOf("Cxcr4", fCxcr4).concat(ticksOf("Cxcr1", fCxcr1), ticksOf("Cxcr2", fCxcr2), ticksOf("Ccr2", fCcr2), ticksOf("Ccr3", fCcr3), ticksOf("Ccr4", fCcr4), ticksOf("Ccr5", fCcr5), ticksOf("Ccr9", fCcr9), ticksOf("Cxcr3", fCxcr3), ticksOf("Cxcr5", fCxcr5), ticksOf("Cxcr6", fCxcr6)), tickF],
]);
hBar(387, 792, 80, 9);
txt(377, 796.5, "0", { size: 12 });
txt(470, 796.5, "2", { size: 12 });
txt(397, 811, "scaled data", { size: 10.8 });

// ---- G ----
panel(1, 812, "G");
box(17, 820, 84, 14, "#5fb0ee");
box(101, 820, 108, 14, "#e2ac84");
txt(55, 827, "anti-IL-17", { size: 10.8, center: true });
txt(155, 827, "Untreated", { size: 10.8, center: true });
cellChart(17, 843, 192, 112, cellRowsG, 60, 10, 11, 576, [
  [rangesOf("S100a8", gS100a8Solid).concat(rangesOf("S100a9", gS100a9Solid), rangesOf("Osm", gOsmSolid), rangesOf("Vegfa", gVegfaSolid), rangesOf("Mmp9", gMmp9Solid)), "#e00000"],
  [ticksOf("S100a9", gS100a9).concat(ticksOf("Osm", gOsm, 4), ticksOf("Vegfa", gVegfa), ticksOf("Mmp9", gMmp9, 4)), "#b8502c"],
  [ticksOf("Tgfb1", gTgfb1).concat(ticksOf("Prok2", gProk2), ticksOf("Ccl17", gCcl17)), "#a2783f"],
  [ticksOf("Arg1", gArg1Dark), "#26461c"],
  [rangesOf("S100a8", gS100a8Dark).concat(rangesOf("Arg1", gArg1End)), "#220000"],
]);
hBar(26, 963, 80, 9);
txt(16, 968, "0", { size: 12 });
txt(109, 968, "2", { size: 12 });
txt(36, 981, "scaled data", { size: 10.8 });

// ---- H ----
panel(281, 822, "H");
const gothic = '"Noto Sans CJK JP", "Noto Sans", sans-serif';
txt(277, 852, "Hall mark gene set", { size: 11, font: gothic, color: "#333" });
txt(577, 852, "NES", { size: 11, font: gothic, color: "#333" });
txt(620, 852, "NOM p-val", { size: 11, font: gothic, color: "#333" });
box(276, 858, 404, 1, "#333");
box(576, 844, 1, 83, "#222");
box(618, 844, 1, 83, "#222");
hallmarkSets.forEach((s, i) => {
  const ry = 868 + i * 17.4;
  txt(277, ry, s, { size: 11.7, font: gothic, color: "#333" });
  txt(616, ry, hallmarkNes[i], { size: 11.7, font: gothic, color: "#333", right: true });
  txt(680, ry, hallmarkPval[i], { size: 11.7, font: gothic, color: "#333", right: true });
});
</script>
</body>
</html>
